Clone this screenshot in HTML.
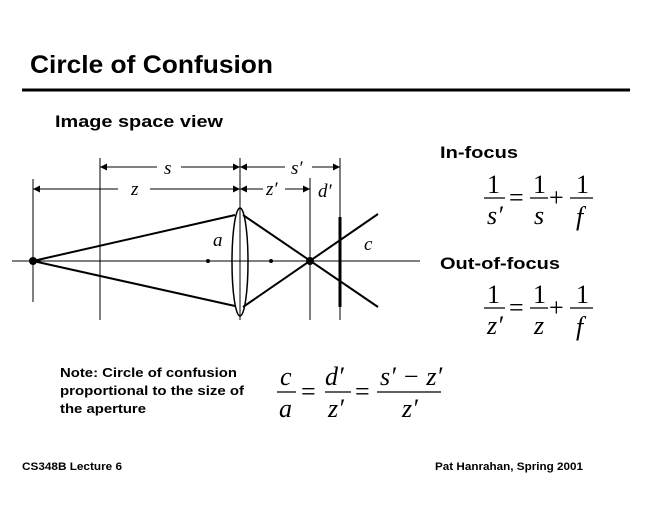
<!DOCTYPE html>
<html><head><style>html,body{margin:0;padding:0;background:#fff}svg{display:block}</style></head>
<body>
<svg width="660" height="510" viewBox="0 0 660 510" xmlns="http://www.w3.org/2000/svg">
<defs>
<marker id="ar" viewBox="0 0 10 10" refX="10" refY="5" markerWidth="9" markerHeight="7" orient="auto-start-reverse" markerUnits="userSpaceOnUse"><path d="M0,0 L10,5 L0,10 z" fill="#000"/></marker>
</defs>
<g font-family="Liberation Sans, sans-serif" font-weight="bold" fill="#000">
<text x="30" y="73" font-size="25" textLength="243" lengthAdjust="spacingAndGlyphs">Circle of Confusion</text>
<text x="55" y="127" font-size="17" textLength="168" lengthAdjust="spacingAndGlyphs">Image space view</text>
<text x="440" y="158" font-size="17" textLength="78" lengthAdjust="spacingAndGlyphs">In-focus</text>
<text x="440" y="269" font-size="17" textLength="120" lengthAdjust="spacingAndGlyphs">Out-of-focus</text>
<text x="60" y="377" font-size="13" textLength="177" lengthAdjust="spacingAndGlyphs">Note: Circle of confusion</text>
<text x="60" y="395" font-size="13" textLength="184" lengthAdjust="spacingAndGlyphs">proportional to the size of</text>
<text x="60" y="413" font-size="13" textLength="86" lengthAdjust="spacingAndGlyphs">the aperture</text>
<text x="22" y="470" font-size="11" textLength="100" lengthAdjust="spacingAndGlyphs">CS348B Lecture 6</text>
<text x="435" y="470" font-size="11" textLength="148" lengthAdjust="spacingAndGlyphs">Pat Hanrahan, Spring 2001</text>
</g>
<line x1="22" y1="90" x2="630" y2="90" stroke="#000" stroke-width="3"/>
<g stroke="#000" stroke-width="1" fill="none">
<line x1="12" y1="261" x2="420" y2="261"/>
<line x1="33" y1="179" x2="33" y2="302"/>
<line x1="100" y1="158" x2="100" y2="320"/>
<line x1="240" y1="158" x2="240" y2="320"/>
<line x1="310" y1="178" x2="310" y2="320"/>
<line x1="340" y1="158" x2="340" y2="320"/>
<line x1="100" y1="167" x2="157" y2="167" marker-start="url(#ar)"/>
<line x1="181" y1="167" x2="240" y2="167" marker-end="url(#ar)"/>
<line x1="240" y1="167" x2="285" y2="167" marker-start="url(#ar)"/>
<line x1="312" y1="167" x2="340" y2="167" marker-end="url(#ar)"/>
<line x1="33" y1="189" x2="118" y2="189" marker-start="url(#ar)"/>
<line x1="150" y1="189" x2="240" y2="189" marker-end="url(#ar)"/>
<line x1="240" y1="189" x2="263" y2="189" marker-start="url(#ar)"/>
<line x1="285" y1="189" x2="310" y2="189" marker-end="url(#ar)"/>
<ellipse cx="240" cy="262" rx="8" ry="54" stroke-width="1.5"/>
</g>
<g stroke="#000" stroke-width="2" fill="none">
<polyline points="235,215 33,261 235,306"/>
<line x1="243" y1="215" x2="378" y2="307"/>
<line x1="243" y1="307" x2="378" y2="214"/>
<line x1="340" y1="217" x2="340" y2="307" stroke-width="3"/>
</g>
<circle cx="33" cy="261" r="4"/>
<circle cx="310" cy="261" r="4"/>
<circle cx="208" cy="261" r="2"/>
<circle cx="271" cy="261" r="2"/>
<g font-family="Liberation Serif, serif" font-style="italic" fill="#000" font-size="19">
<text x="164" y="174">s</text>
<text x="291" y="174">s′</text>
<text x="131" y="195">z</text>
<text x="266" y="195">z′</text>
<text x="318" y="197">d′</text>
<text x="213" y="246">a</text>
<text x="364" y="250">c</text>
</g>
<g font-family="Liberation Serif, serif" fill="#000" font-size="26">
<text x="487" y="193">1</text><line x1="484" y1="198" x2="505" y2="198" stroke="#000" stroke-width="1.2"/>
<text x="487" y="224" font-style="italic">s′</text>
<text x="509" y="206">=</text>
<text x="533" y="193">1</text><line x1="530" y1="198" x2="548" y2="198" stroke="#000" stroke-width="1.2"/>
<text x="534" y="224" font-style="italic">s</text>
<text x="549" y="206">+</text>
<text x="576" y="193">1</text><line x1="570" y1="198" x2="593" y2="198" stroke="#000" stroke-width="1.2"/>
<text x="576" y="225" font-style="italic">f</text>
<text x="487" y="303">1</text><line x1="484" y1="308" x2="505" y2="308" stroke="#000" stroke-width="1.2"/>
<text x="487" y="334" font-style="italic">z′</text>
<text x="509" y="316">=</text>
<text x="533" y="303">1</text><line x1="530" y1="308" x2="548" y2="308" stroke="#000" stroke-width="1.2"/>
<text x="534" y="334" font-style="italic">z</text>
<text x="549" y="316">+</text>
<text x="576" y="303">1</text><line x1="570" y1="308" x2="593" y2="308" stroke="#000" stroke-width="1.2"/>
<text x="576" y="335" font-style="italic">f</text>
<text x="280" y="385" font-style="italic">c</text><line x1="277" y1="392" x2="296" y2="392" stroke="#000" stroke-width="1.2"/>
<text x="279" y="417" font-style="italic">a</text>
<text x="301" y="400">=</text>
<text x="325" y="385" font-style="italic">d′</text><line x1="325" y1="392" x2="351" y2="392" stroke="#000" stroke-width="1.2"/>
<text x="328" y="417" font-style="italic">z′</text>
<text x="355" y="400">=</text>
<text x="380" y="385" font-style="italic">s′ − z′</text><line x1="377" y1="392" x2="441" y2="392" stroke="#000" stroke-width="1.2"/>
<text x="402" y="417" font-style="italic">z′</text>
</g>
</svg>
</body></html>
